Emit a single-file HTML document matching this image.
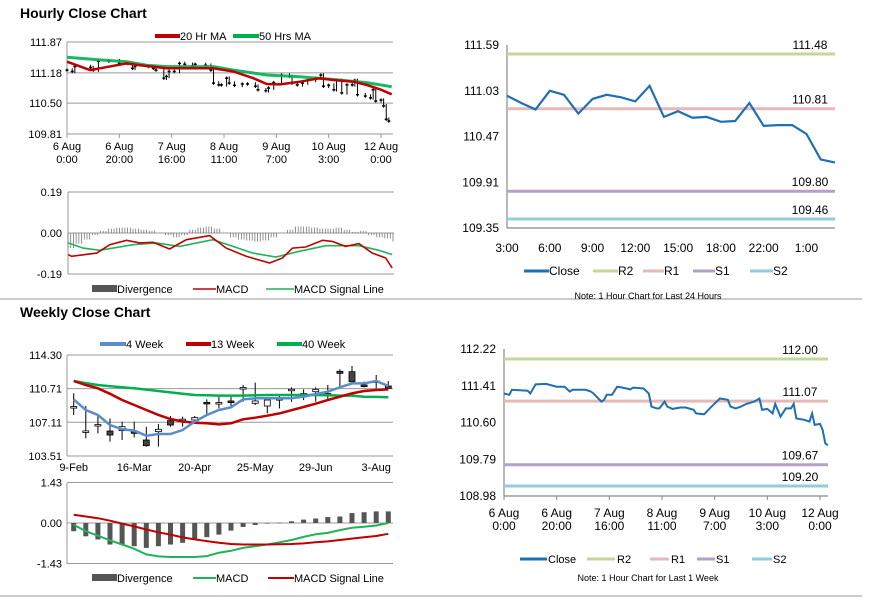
<!DOCTYPE html>
<html><head><meta charset="utf-8">
<style>
html,body{margin:0;padding:0;background:#fff;}
svg{display:block;font-family:"Liberation Sans",Arial,sans-serif;}
.t{font-size:11px;fill:#000;}
.n{font-size:12px;fill:#000;}
.title{font-size:14px;font-weight:bold;fill:#000;}
</style></head>
<body>
<svg id="root" width="873" height="601" viewBox="0 0 873 601" xmlns="http://www.w3.org/2000/svg">
<text x="20" y="18" class="title">Hourly Close Chart</text>
<text x="20" y="317" class="title">Weekly Close Chart</text>
<line x1="0" y1="299" x2="862" y2="299" stroke="#999" stroke-width="1"/>
<line x1="0" y1="596" x2="862" y2="596" stroke="#999" stroke-width="1"/>

<!-- hourly legend -->
<g>
<line x1="155" y1="36" x2="180" y2="36" stroke="#c00000" stroke-width="4"/><text x="180" y="40" class="t">20 Hr MA</text>
<line x1="233" y1="36" x2="259" y2="36" stroke="#00b050" stroke-width="4"/><text x="259" y="40" class="t">50 Hrs MA</text>
</g>
<g>
<rect x="92" y="285" width="25" height="7" fill="#555"/><text x="117" y="293" class="t">Divergence</text>
<line x1="193" y1="289" x2="216" y2="289" stroke="#c00000" stroke-width="1.5"/><text x="216" y="293" class="t">MACD</text>
<line x1="266" y1="289" x2="294" y2="289" stroke="#1fb35a" stroke-width="1.5"/><text x="294" y="293" class="t">MACD Signal Line</text>
</g>
<g>
<line x1="100" y1="344" x2="126" y2="344" stroke="#5b8ccb" stroke-width="4"/><text x="126" y="348" class="t">4 Week</text>
<line x1="186" y1="344" x2="211" y2="344" stroke="#c00000" stroke-width="4"/><text x="211" y="348" class="t">13 Week</text>
<line x1="277" y1="344" x2="302" y2="344" stroke="#00b050" stroke-width="4"/><text x="302" y="348" class="t">40 Week</text>
</g>
<g>
<rect x="92" y="574" width="25" height="7" fill="#555"/><text x="117" y="582" class="t">Divergence</text>
<line x1="193" y1="578" x2="216" y2="578" stroke="#1fb35a" stroke-width="2"/><text x="216" y="582" class="t">MACD</text>
<line x1="268" y1="578" x2="294" y2="578" stroke="#c00000" stroke-width="2"/><text x="294" y="582" class="t">MACD Signal Line</text>
</g>
<g>
<line x1="524" y1="271" x2="549" y2="271" stroke="#1f6fb4" stroke-width="3"/><text x="549" y="275" class="n">Close</text>
<line x1="593" y1="271" x2="618" y2="271" stroke="#c4d79b" stroke-width="3"/><text x="618" y="275" class="n">R2</text>
<line x1="643" y1="271" x2="664" y2="271" stroke="#e6b9b8" stroke-width="3"/><text x="664" y="275" class="n">R1</text>
<line x1="693" y1="271" x2="715" y2="271" stroke="#b3a2c7" stroke-width="3"/><text x="715" y="275" class="n">S1</text>
<line x1="750" y1="271" x2="773" y2="271" stroke="#93cddd" stroke-width="3"/><text x="773" y="275" class="n">S2</text>
</g>
<text x="648" y="299" text-anchor="middle" style="font-size:9px">Note: 1 Hour Chart for Last 24 Hours</text>
<g>
<line x1="520" y1="559" x2="547" y2="559" stroke="#1f6fb4" stroke-width="3"/><text x="548" y="563" class="t">Close</text>
<line x1="587" y1="559" x2="615" y2="559" stroke="#c4d79b" stroke-width="3"/><text x="617" y="563" class="t">R2</text>
<line x1="650" y1="559" x2="669" y2="559" stroke="#e6b9b8" stroke-width="3"/><text x="671" y="563" class="t">R1</text>
<line x1="697" y1="559" x2="715" y2="559" stroke="#b3a2c7" stroke-width="3"/><text x="716" y="563" class="t">S1</text>
<line x1="752" y1="559" x2="772" y2="559" stroke="#93cddd" stroke-width="3"/><text x="773" y="563" class="t">S2</text>
</g>
<text x="648" y="581" text-anchor="middle" style="font-size:9px">Note: 1 Hour Chart for Last 1 Week</text>
</svg>
<script>
// ---------- data ----------
const hourT = [0,2,3,9,10,12,16,20,23,25,26,31,33,34,37,38,39,41,43,45,48,49,53,55,56,58,59,61,62,64,67,69,72,73,76,77,79,82,85,86,88,90,92,95,97,98,100,102,103,105,107,109,110,111,114,116,117,118,120,121,122,123];
const hourClose = [111.24,111.21,111.32,111.30,111.24,111.44,111.45,111.39,111.39,111.28,111.32,111.32,111.28,111.24,111.06,111.10,111.21,111.21,111.39,111.37,111.33,111.37,111.35,111.24,110.95,110.91,110.91,111.06,110.95,110.90,110.93,110.93,110.88,110.80,110.78,110.84,110.96,111.13,111.10,110.95,110.91,110.95,111.01,111.06,111.13,110.88,110.90,110.80,111.01,110.73,110.91,110.91,111.01,110.69,110.66,110.62,110.80,110.55,110.57,110.44,110.14,110.10];
const ma20T = [0,8.8,12.6,22.8,27.9,38.1,41.9,55.9,63.6,71.2,76.3,81.4,89,96.7,101.8,109.4,114.5,119.6,124.1];
const ma20V = [111.43,111.24,111.28,111.39,111.35,111.28,111.28,111.28,111.21,111.06,110.93,110.92,110.98,111.06,111.02,110.98,110.91,110.81,110.70];
const ma50T = [0,12.6,22.8,30.4,38.1,55.9,63.6,76.3,89,101.8,114.5,124.1];
const ma50V = [111.53,111.47,111.43,111.35,111.32,111.32,111.24,111.13,111.09,111.03,110.96,110.87];
const hDivT = [0,3,6,9,12,15,18,21,24,27,30,33,36,39,42,45,48,51,54,57,60,63,66,69,72,75,78,81,84,87,90,93,96,99,102,105,108,111,114,117,120,123];
const hDivV = [-0.07,-0.05,-0.03,-0.01,0.01,0.02,0.025,0.025,0.02,0.015,0.01,0.0,-0.01,-0.02,-0.01,0.015,0.025,0.03,0.02,0.0,-0.02,-0.03,-0.035,-0.04,-0.035,-0.02,0.0,0.015,0.03,0.03,0.025,0.02,0.02,0.025,0.015,0.005,0.01,-0.01,-0.02,-0.025,-0.04,-0.06];
const hMacdT = [0.1,1.3,10.6,15.4,21.6,26.5,31.4,37.5,43.7,52.3,58.4,65.8,74.4,79.2,82.9,87.8,94,97.6,102.5,107.4,112.4,117.3,119.7];
const hMacdV = [-0.100,-0.108,-0.093,-0.054,-0.034,-0.046,-0.043,-0.074,-0.031,-0.012,-0.070,-0.108,-0.139,-0.116,-0.070,-0.065,-0.034,-0.039,-0.062,-0.049,-0.093,-0.116,-0.162];
const hSigT = [0,5.6,11.7,24,32.6,41.2,53.5,60.9,68.2,76.8,85.4,95.2,107.4,114.8,119.7];
const hSigV = [-0.046,-0.070,-0.080,-0.054,-0.046,-0.062,-0.031,-0.062,-0.093,-0.111,-0.085,-0.059,-0.059,-0.080,-0.100];
const hTickT = [0,20,40,60,80,100,120];
const hTickL1 = ["6 Aug","6 Aug","7 Aug","8 Aug","9 Aug","10 Aug","12 Aug"];
const hTickL2 = ["0:00","20:00","16:00","11:00","7:00","3:00","0:00"];
const hYTicks = [111.87,111.18,110.50,109.81];
const hmYTicks = [0.19,0.00,-0.19];

const dayLabels = ["3:00","6:00","9:00","12:00","15:00","18:00","22:00","1:00"];
const dayClose = [110.97,110.88,110.80,111.03,110.98,110.75,110.93,110.98,110.95,110.90,111.09,110.71,110.78,110.70,110.71,110.65,110.66,110.88,110.60,110.61,110.61,110.50,110.19,110.15];
const dayYTicks = [111.59,111.03,110.47,109.91,109.35];
const dayLevelNames = ["R2","R1","S1","S2"];
const dayLevels = [111.48,110.81,109.80,109.46];
const wkLevels = [112.00,111.07,109.67,109.20];
const levelColors = ["#c4d79b","#e6b9b8","#b3a2c7","#93cddd"];
const wkYTicks = [112.22,111.41,110.60,109.79,108.98];

const weekLabels = ["9-Feb","16-Mar","20-Apr","25-May","29-Jun","3-Aug"];
const wOpen  = [108.71,106.11,106.79,106.18,106.22,106.18,105.22,106.11,107.29,107.36,107.36,109.24,109.14,109.39,110.74,109.14,108.85,109.56,110.56,110.10,110.38,110.10,112.56,112.52,111.10,111.45,110.99];
const wClose = [108.71,106.11,106.79,105.75,106.64,105.93,104.61,106.36,106.82,107.36,107.61,109.07,109.14,109.21,110.74,109.39,109.49,109.56,110.56,110.10,110.63,110.10,112.34,111.45,110.92,111.45,110.74];
const wHigh  = [110.21,108.85,107.89,107.53,107.18,107.18,106.64,106.93,107.78,107.71,107.78,109.56,109.85,109.85,111.10,111.35,109.49,110.03,110.85,110.63,110.85,111.10,112.77,113.13,111.45,112.16,111.52];
const wLow   = [107.89,105.40,105.93,105.04,105.22,105.50,104.51,104.51,106.64,106.64,107.07,107.89,108.60,108.78,109.31,108.96,108.07,108.60,109.31,109.49,109.31,109.49,110.85,111.34,110.85,110.74,110.74];
const w4  = [109.56,108.42,107.89,106.82,106.36,106.22,105.68,105.86,105.86,106.29,107.18,107.89,108.42,108.71,109.56,109.67,109.67,109.67,109.67,109.85,110.13,110.38,110.85,111.27,111.27,111.52,110.99];
const w13 = [111.52,111.10,110.74,110.15,109.49,108.96,108.42,107.90,107.46,107.20,107.07,107.00,106.89,107.00,107.43,107.60,107.82,108.06,108.40,108.75,109.10,109.49,109.85,110.20,110.45,110.56,110.63];
const w40 = [111.52,111.30,111.10,110.97,110.85,110.74,110.60,110.45,110.30,110.16,110.03,110.00,109.96,109.96,109.96,110.00,110.03,110.03,110.03,110.03,110.03,110.00,109.96,109.96,109.85,109.82,109.78];
const wDiv = [-0.29,-0.47,-0.58,-0.76,-0.76,-0.82,-0.88,-0.82,-0.76,-0.70,-0.58,-0.50,-0.41,-0.27,-0.14,-0.07,-0.02,0.01,0.06,0.12,0.16,0.21,0.23,0.35,0.38,0.41,0.41];
const wMacd = [-0.06,-0.29,-0.45,-0.61,-0.76,-0.91,-1.11,-1.18,-1.20,-1.20,-1.20,-1.17,-1.05,-0.98,-0.88,-0.82,-0.76,-0.68,-0.60,-0.49,-0.40,-0.35,-0.25,-0.17,-0.13,-0.09,0.00];
const wSig = [0.29,0.23,0.17,0.08,-0.02,-0.12,-0.23,-0.33,-0.41,-0.51,-0.58,-0.64,-0.70,-0.74,-0.76,-0.76,-0.76,-0.75,-0.74,-0.72,-0.68,-0.65,-0.60,-0.55,-0.50,-0.46,-0.38];
const wYTicks = [114.30,110.71,107.11,103.51];
const wmYTicks = [1.43,0.00,-1.43];

// ---------- helpers ----------
const NS = "http://www.w3.org/2000/svg";
const root = document.getElementById("root");
function mk(tag, attrs){ const e=document.createElementNS(NS,tag); for(const k in attrs) e.setAttribute(k,attrs[k]); root.appendChild(e); return e; }
function pts(xs, ys, fx, fy){ return xs.map((x,i)=>fx(x).toFixed(1)+","+fy(ys[i]).toFixed(1)).join(" "); }
function txt(x,y,s,anchor,cls){ const e=mk("text",{x:x,y:y,"text-anchor":anchor,class:cls}); e.textContent=s; return e; }

// ---------- scales ----------
const hx = t => 67 + t*(314/120);
const hy = v => 42 + (111.87-v)/2.06*92;
const mx = t => 68 + t*(325/120);
const my = v => 233 - v/0.19*41;
const rx = i => 507 + i*(328/23);
const ry = v => 45 + (111.59-v)/2.24*183;
const wx = i => 73.7 + i*12.1;
const wy = v => 355 + (114.30-v)/10.79*101;
const wmy = v => 523 - v/1.43*40.5;
const bx = t => 504 + t*(316/120);
const by = v => 349 + (112.22-v)/3.24*147;

// ---------- hourly close chart ----------
hYTicks.forEach(v=>{
  const g=mk("line",{x1:67,x2:393,y1:hy(v),y2:hy(v),stroke:"#999","stroke-width":1});
  
  
  const l=txt(62,hy(v)+4,v.toFixed(2),"end","t");
  
  
});
let ax=mk("line",{x1:67,x2:67,y1:42,y2:134,stroke:"#999"});


hTickT.forEach((t,i)=>{
  const tk=mk("line",{x1:hx(t),x2:hx(t),y1:134,y2:138,stroke:"#999"});
  
  
  const a=txt(hx(t),150,hTickL1[i],"middle","t");
  
  
  const b=txt(hx(t),163,hTickL2[i],"middle","t");
  
  
});
hourClose.forEach((v,i)=>{
  const prev = i>0 ? hourClose[i-1] : v;
  const hi = Math.max(prev,v)+0.04, lo = Math.min(prev,v)-0.04;
  const c=mk("line",{x1:hx(hourT[i]),x2:hx(hourT[i]),y1:hy(hi),y2:hy(lo),stroke:"#000","stroke-width":1});
  
  
  const d=mk("line",{x1:hx(hourT[i])-1.5,x2:hx(hourT[i])+1.5,y1:hy(v),y2:hy(v),stroke:"#000","stroke-width":1.5});
  
  
});
let l50=mk("polyline",{points:pts(ma50T,ma50V,hx,hy),fill:"none",stroke:"#00b050","stroke-width":3,"stroke-linejoin":"round","stroke-opacity":0.9});


let l20=mk("polyline",{points:pts(ma20T,ma20V,hx,hy),fill:"none",stroke:"#c00000","stroke-width":2.5,"stroke-linejoin":"round"});



// ---------- hourly MACD ----------
hmYTicks.forEach(v=>{
  const g=mk("line",{x1:68,x2:394,y1:my(v),y2:my(v),stroke:"#999"});
  
  
  const l=txt(62,my(v)+4,v.toFixed(2),"end","t");
  
  
});
ax=mk("line",{x1:68,x2:68,y1:192,y2:274,stroke:"#999"});


hDivT.forEach((t,i)=>{
  for(let k=0;k<3;k++){
    const xx=mx(t+k);
    if(xx>393) continue;
    const b=mk("line",{x1:xx,x2:xx,y1:my(0),y2:my(hDivV[i]),stroke:"#777","stroke-width":0.8});
    
    
  }
});
let sg=mk("polyline",{points:pts(hSigT,hSigV,mx,my),fill:"none",stroke:"#1fb35a","stroke-width":1.6});


let mc=mk("polyline",{points:pts(hMacdT,hMacdV,mx,my),fill:"none",stroke:"#c00000","stroke-width":1.6});



// ---------- 24h pivot chart ----------
dayYTicks.forEach(v=>{
  const l=txt(499,ry(v)+4,v.toFixed(2),"end","n");
  
  
});
ax=mk("line",{x1:507,x2:507,y1:45,y2:228,stroke:"#888","stroke-width":1.2});


ax=mk("line",{x1:507,x2:835,y1:228,y2:228,stroke:"#888","stroke-width":1.2});


dayLabels.forEach((s,i)=>{
  const l=txt(rx(i*3),252,s,"middle","n");
  
  
});
dayLevels.forEach((v,i)=>{
  const g=mk("line",{x1:507,x2:835,y1:ry(v),y2:ry(v),stroke:levelColors[i],"stroke-width":3});
  
  
  const l=txt(810,ry(v)-5,v.toFixed(2),"middle","n");
  
  
});
let dc=mk("polyline",{points:pts(dayClose.map((v,i)=>i),dayClose,rx,ry),fill:"none",stroke:"#1f6fb4","stroke-width":2.2});



// ---------- weekly close chart ----------
wYTicks.forEach(v=>{
  const g=mk("line",{x1:67,x2:393,y1:wy(v),y2:wy(v),stroke:"#999"});
  
  
  const l=txt(62,wy(v)+4,v.toFixed(2),"end","t");
  
  
});
ax=mk("line",{x1:67,x2:67,y1:355,y2:456,stroke:"#999"});


weekLabels.forEach((s,i)=>{
  const l=txt(wx(i*5),471,s,"middle","t");
  
  
});
wOpen.forEach((o,i)=>{
  const c=wClose[i], x=wx(i);
  const w=mk("line",{x1:x,x2:x,y1:wy(wHigh[i]),y2:wy(wLow[i]),stroke:"#000","stroke-width":1});
  
  
  const top=wy(Math.max(o,c)), h=Math.max(1.5,Math.abs(wy(o)-wy(c)));
  const b=mk("rect",{x:x-3,y:top-(h<=1.5?0.75:0),width:6,height:h,fill:c<o?"#444":"#fff",stroke:"#000","stroke-width":0.8});
  
  
});
const widx = w4.map((v,i)=>i);
let p40=mk("polyline",{points:pts(widx,w40,wx,wy),fill:"none",stroke:"#00b050","stroke-width":2.5});


let p13=mk("polyline",{points:pts(widx,w13,wx,wy),fill:"none",stroke:"#c00000","stroke-width":2.5});


let p4=mk("polyline",{points:pts(widx,w4,wx,wy),fill:"none",stroke:"#5b8ccb","stroke-width":2.5});



// ---------- weekly MACD ----------
wmYTicks.forEach(v=>{
  const g=mk("line",{x1:67,x2:393,y1:wmy(v),y2:wmy(v),stroke:"#999"});
  
  
  const l=txt(62,wmy(v)+4,v.toFixed(2),"end","t");
  
  
});
ax=mk("line",{x1:67,x2:67,y1:483,y2:564,stroke:"#999"});


wDiv.forEach((v,i)=>{
  const y0=wmy(0), y1=wmy(v);
  const b=mk("rect",{x:wx(i)-2.5,y:Math.min(y0,y1),width:5,height:Math.max(0.5,Math.abs(y1-y0)),fill:"#555"});
  
  
});
let wm=mk("polyline",{points:pts(widx,wMacd,wx,wmy),fill:"none",stroke:"#1fb35a","stroke-width":2});


let ws=mk("polyline",{points:pts(widx,wSig,wx,wmy),fill:"none",stroke:"#c00000","stroke-width":2});



// ---------- 1 week pivot chart ----------
wkYTicks.forEach(v=>{
  const l=txt(496,by(v)+4,v.toFixed(2),"end","n");
  
  
});
ax=mk("line",{x1:504,x2:504,y1:349,y2:496,stroke:"#888","stroke-width":1.2});


ax=mk("line",{x1:504,x2:828,y1:496,y2:496,stroke:"#888","stroke-width":1.2});


hTickT.forEach((t,i)=>{
  const tk=mk("line",{x1:bx(t),x2:bx(t),y1:496,y2:500,stroke:"#888"});
  
  
  const a=txt(bx(t),517,hTickL1[i],"middle","n");
  
  
  const b=txt(bx(t),530,hTickL2[i],"middle","n");
  
  
});
wkLevels.forEach((v,i)=>{
  const g=mk("line",{x1:504,x2:828,y1:by(v),y2:by(v),stroke:levelColors[i],"stroke-width":3});
  
  
  const l=txt(800,by(v)-5,v.toFixed(2),"middle","n");
  
  
});
let wc=mk("polyline",{points:pts(hourT,hourClose,bx,by),fill:"none",stroke:"#1f6fb4","stroke-width":2});


</script>
</body></html>
